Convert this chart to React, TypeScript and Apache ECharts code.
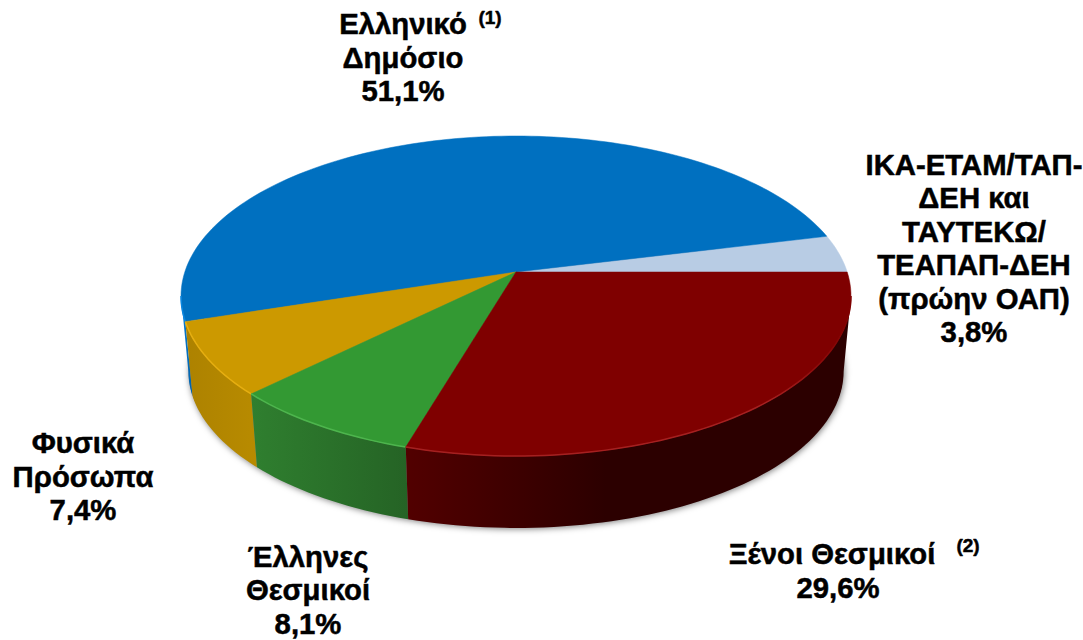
import React, { useEffect, useRef } from "react";
import * as echarts from "echarts";

const sliceNames = ["ΙΚΑ-ΕΤΑΜ/ΤΑΠ-ΔΕΗ και ΤΑΥΤΕΚΩ/ΤΕΑΠΑΠ-ΔΕΗ (πρώην ΟΑΠ)", "Ελληνικό Δημόσιο", "Φυσικά Πρόσωπα", "Έλληνες Θεσμικοί", "Ξένοι Θεσμικοί"];
const sliceValues = [3.8, 51.1, 7.4, 8.1, 29.6];
const topColors = ["#B8CCE4", "#0070C0", "#CC9900", "#339933", "#7F0000"];
const rimColors = ["#B8CCE4", "#0A86E0", "#E6AE10", "#4DB54D", "#A52020"];
const wallLeft = ["#8FA3BA", "#0A7FD6", "#AD8200", "#2F7F2F", "#520000"];
const wallRight = ["#8FA3BA", "#0060A8", "#B88B00", "#256325", "#2C0000"];
const wallMidStop = [1, 1, 1, 1, 0.45];

const FONT = 'bold 29.3px "Liberation Sans", Arial, sans-serif';
const SUP = 'bold 19px "Liberation Sans", Arial, sans-serif';
const labels = [
  { text: "Ελληνικό\nΔημόσιο\n51,1%", x: 403, y: 57, font: FONT },
  { text: "(1)", x: 490, y: 17, font: SUP },
  { text: "ΙΚΑ-ΕΤΑΜ/ΤΑΠ-\nΔΕΗ και\nΤΑΥΤΕΚΩ/\nΤΕΑΠΑΠ-ΔΕΗ\n(πρώην ΟΑΠ)\n3,8%", x: 974, y: 248, font: FONT },
  { text: "Φυσικά\nΠρόσωπα\n7,4%", x: 83, y: 476, font: FONT },
  { text: "Έλληνες\nΘεσμικοί\n8,1%", x: 308, y: 589.5, font: FONT },
  { text: "Ξένοι Θεσμικοί", x: 832, y: 553, font: FONT },
  { text: "(2)", x: 968, y: 545, font: SUP },
  { text: "29,6%", x: 838, y: 587, font: FONT },
];

// Perspective disc: a circle projected with the far side foreshortened.
const TILT = -0.15;
const RX = 331.2;
const RY = 156.4;
const TOP = { ax: 516, ay: 272, s: 1 };
const BASE = { ax: 516, ay: 348, s: 0.978 };
const WALL_FROM = 188.6;
const WALL_TO = 351.4;

const total = sliceValues.reduce((a, b) => a + b, 0);
const edges: number[] = [0];
sliceValues.forEach((v, i) => edges.push(edges[i] + (v / total) * 360));

const pt = (e: typeof TOP, deg: number) => {
  const r = (deg * Math.PI) / 180;
  const u = Math.cos(r);
  const v = -Math.sin(r);
  const den = 1 + TILT * v;
  return [e.ax + (e.s * RX * u) / den, e.ay + (e.s * RY * v) / den];
};
const arc = (e: typeof TOP, a: number, b: number) => {
  const out: number[][] = [];
  const n = Math.max(2, Math.ceil(Math.abs(b - a) / 1.5));
  for (let i = 0; i <= n; i++) out.push(pt(e, a + ((b - a) * i) / n));
  return out;
};

function renderSlice(params: any) {
  const i = params.dataIndex;
  const a = edges[i];
  const b = edges[i + 1];
  const children: any[] = [];
  if (i === 0) {
    children.push({
      type: "polygon",
      shape: { points: arc(BASE, 0, 360).map((p) => [p[0], p[1] - 1]) },
      style: { fill: "#888", shadowBlur: 6, shadowColor: "rgba(0,0,0,0.5)", shadowOffsetX: 1, shadowOffsetY: 2 },
    });
  }
  const wa = Math.max(a, WALL_FROM);
  const wb = Math.min(b, WALL_TO);
  if (wb > wa) {
    const pts = [...arc(TOP, wa, wb), ...arc(BASE, wb, wa)];
    children.push({
      type: "polygon",
      shape: { points: pts },
      style: {
        fill: new echarts.graphic.LinearGradient(0, 0, 1, 0, [
          { offset: 0, color: wallLeft[i] },
          { offset: wallMidStop[i], color: wallRight[i] },
          { offset: 1, color: wallRight[i] },
        ]),
      },
    });
  }
  children.push({
    type: "polygon",
    shape: { points: [[TOP.ax, TOP.ay], ...arc(TOP, a, b)] },
    style: { fill: topColors[i], stroke: topColors[i], lineWidth: 0.5 },
  });
  if (wb > wa) {
    children.push({
      type: "polyline",
      shape: { points: arc(TOP, wa, wb) },
      style: {
        fill: "none",
        lineWidth: 1.5,
        stroke: new echarts.graphic.LinearGradient(0, 0, 1, 0, [
          { offset: 0, color: rimColors[i] },
          { offset: wallMidStop[i] * 0.6 + (1 - wallMidStop[i]), color: rimColors[i] },
          { offset: 1, color: wallMidStop[i] < 1 ? topColors[i] : rimColors[i] },
        ]),
      },
    });
  }
  return { type: "group", children };
}

export default function App() {
  const ref = useRef<HTMLDivElement>(null);
  useEffect(() => {
    document.body.style.margin = "0";
    const chart = echarts.init(ref.current!, null, { renderer: "svg" });
    chart.setOption({
      animation: false,
      backgroundColor: "#fff",
      graphic: labels.map((l) => ({
        type: "text",
        z: 10,
        style: {
          text: l.text,
          x: l.x,
          y: l.y,
          font: l.font,
          fill: "#000",
          stroke: "#000",
          lineWidth: 0.5,
          align: "center",
          verticalAlign: "middle",
          lineHeight: 33.5,
        },
      })),
      series: [
        {
          type: "custom",
          coordinateSystem: "none",
          silent: true,
          renderItem: renderSlice,
          data: sliceValues.map((v, i) => ({ name: sliceNames[i], value: [v] })),
        },
      ],
    });
    return () => chart.dispose();
  }, []);
  return <div ref={ref} style={{ width: 1083, height: 640 }} />;
}
